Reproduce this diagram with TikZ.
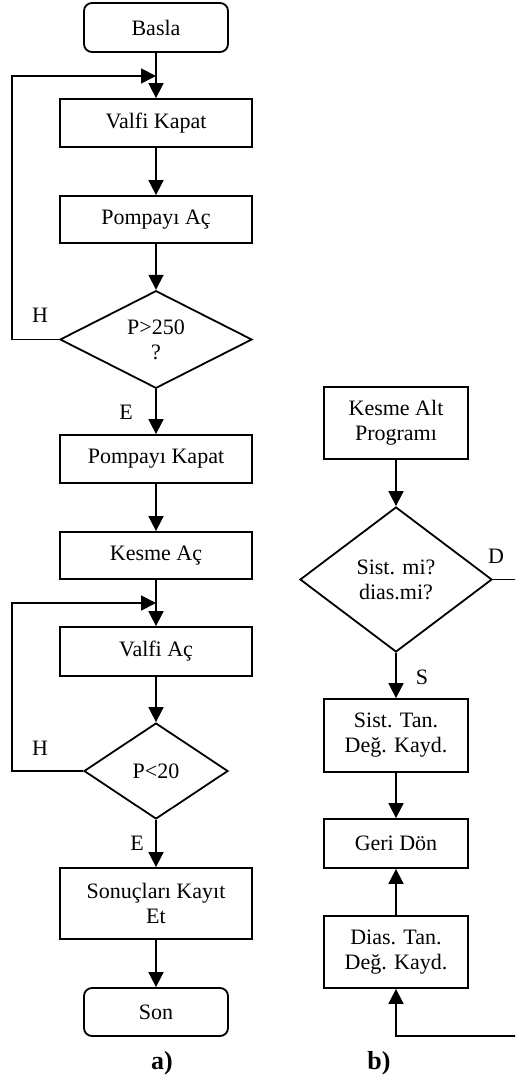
\documentclass[tikz,border=0pt]{standalone}
\usepackage{fontspec}
\setmainfont{Liberation Serif}
\usepackage{tikz}
\usetikzlibrary{arrows.meta, shapes.geometric}

\begin{document}
\begin{tikzpicture}[x=0.5pt, y=-0.5pt,
    font=\fontsize{11}{12.5}\selectfont,
    islem/.style={draw, line width=0.9pt, minimum width=96pt, minimum height=24pt, inner sep=0pt, align=center},
    ucnokta/.style={islem, rounded corners=4pt, minimum width=72pt},
    karar/.style={draw, diamond, line width=0.9pt, inner sep=0pt, align=center},
    ok/.style={line width=0.9pt, -{Triangle[length=7.5pt, width=7.5pt]}},
    etiket/.style={inner sep=0pt}]
        \useasboundingbox (0,0) rectangle (515,1079);
        \clip (0,0) rectangle (515,1079);

        % a) ana program
        \node[ucnokta, minimum height=24.5pt] (basla) at (156,27.5) {Basla};
        \node[islem] (valfikapat) at (156,123) {Valfi Kapat};
        \node[islem, minimum height=23.5pt] (pompaac) at (156,219.5) {Pompayı Aç};
        \node[karar, minimum width=96pt, minimum height=47.5pt] (kosul1) at (156,339.5) {P>250\\?};
        \node[islem] (pompakapat) at (156,459) {Pompayı Kapat};
        \node[islem, minimum height=23.5pt] (kesmeac) at (156,555.5) {Kesme Aç};
        \node[islem, minimum height=24.5pt] (valfiac) at (156,651.5) {Valfi Aç};
        \node[karar, minimum width=72pt, minimum height=48pt] (kosul2) at (156,771) {P<20};
        \node[islem, minimum height=35.5pt] (kayit) at (156,903.5) {Sonuçları Kayıt\\Et};
        \node[ucnokta] (son) at (156,1012) {Son};

        \coordinate (j1) at (156,76);
        \coordinate (j2) at (156,603);
        \coordinate (sol1) at (12,76);
        \coordinate (sol2) at (12,603);

        \draw[ok] (basla) -- (valfikapat);
        \draw[ok] (valfikapat) -- (pompaac);
        \draw[ok] (pompaac) -- (kosul1);
        \draw[ok] (kosul1) -- (pompakapat);
        \draw[ok] (pompakapat) -- (kesmeac);
        \draw[ok] (kesmeac) -- (valfiac);
        \draw[ok] (valfiac) -- (kosul2);
        \draw[ok] (kosul2) -- (kayit);
        \draw[ok] (kayit) -- (son);
        \draw[ok] (kosul1.west) -| (sol1) -- (j1); % geri dongu
        \draw[ok] (kosul2.west) -| (sol2) -- (j2);

        \node[etiket] (h1) at (40,315) {H};
        \node[etiket] (e1) at (126,412) {E};
        \node[etiket] (h2) at (40,748) {H};
        \node[etiket] (e2) at (137,843) {E};

        % b) kesme alt programi
        \node[islem, minimum width=72pt, minimum height=36pt] (kesmealt) at (396,423) {Kesme Alt\\Programı};
        \node[karar, minimum width=96pt, minimum height=72.5pt] (kosul3) at (396,579.5) {Sist. mi?\\dias.mi?};
        \node[islem, minimum width=72pt, minimum height=36.5pt] (sisttan) at (396,735.5) {Sist. Tan.\\Değ. Kayd.};
        \node[islem, minimum width=72pt, minimum height=24.5pt] (geridon) at (396,843.5) {Geri Dön};
        \node[islem, minimum width=72pt, minimum height=36pt] (diastan) at (396,952) {Dias. Tan.\\Değ. Kayd.};

        \coordinate (sag) at (522,1036);

        \draw[ok] (kesmealt) -- (kosul3);
        \draw[ok] (kosul3) -- (sisttan);
        \draw[ok] (sisttan) -- (geridon);
        \draw[ok] (diastan) -- (geridon);
        \draw[ok] (kosul3.east) -| (sag) -| (diastan.south);

        \node[etiket] (d) at (496,556) {D};
        \node[etiket] (s) at (422,677) {S};

        \node[etiket, font=\fontsize{13}{15}\selectfont\bfseries] (a) at (162,1063) {a)};
        \node[etiket, font=\fontsize{13}{15}\selectfont\bfseries] (b) at (379,1063) {b)};
    \end{tikzpicture}
\end{document}
